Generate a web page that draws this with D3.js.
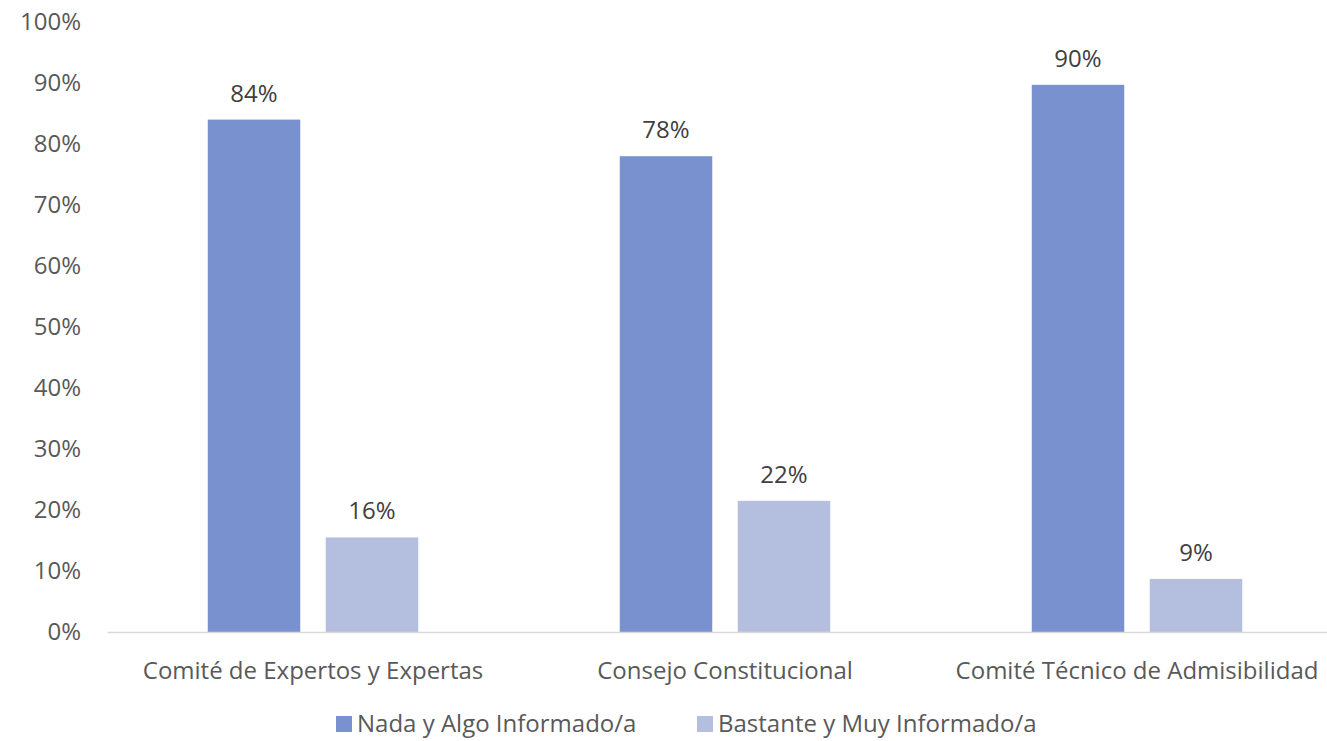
<!DOCTYPE html>
<html><head><meta charset="utf-8">
<script src="https://cdn.jsdelivr.net/npm/d3@7"></script>
<style>body{margin:0;background:#fff;} svg{display:block;font-family:"Open Sans",sans-serif;}</style>
</head><body>
<svg id="c" width="1327" height="741"></svg>
<script>
const categories = ["Comité de Expertos y Expertas", "Consejo Constitucional", "Comité Técnico de Admisibilidad"];
const seriesNames = ["Nada y Algo Informado/a", "Bastante y Muy Informado/a"];
const nadaAlgo = [0.84, 0.78, 0.897];
const bastanteMuy = [0.155, 0.215, 0.087];
const valueLabels = [["84%", "78%", "90%"], ["16%", "22%", "9%"]];
const yTicks = [0, 0.1, 0.2, 0.3, 0.4, 0.5, 0.6, 0.7, 0.8, 0.9, 1.0];
const colors = ["#7992CF", "#B4BFE0"];
const FS = 24;

const svg = d3.select("#c");
const y = d3.scaleLinear().domain([0, 1]).range([632, 22]);
const x0 = d3.scaleBand().domain(categories).range([107, 1343]).paddingInner(0).paddingOuter(0);
const x1 = d3.scaleBand().domain([0, 1]).range([0, 210.5]).paddingInner(0.216).paddingOuter(0);
const groupOffset = (x0.bandwidth() - 210.5) / 2;

// y axis
const yAxis = d3.axisLeft(y).tickValues(yTicks).tickFormat(d3.format(".0%")).tickSize(0).tickPadding(0);
const ya = svg.append("g").attr("transform", "translate(81,0)").call(yAxis);
ya.select(".domain").remove();
ya.selectAll("text").attr("font-size", FS).attr("fill", "#595959").attr("font-family", '"Open Sans",sans-serif');

// bars
const series = [nadaAlgo, bastanteMuy];
series.forEach((vals, si) => {
  const g = svg.append("g");
  g.selectAll("rect").data(vals).join("rect")
    .attr("x", (d, i) => x0(categories[i]) + groupOffset + x1(si))
    .attr("y", d => y(d))
    .attr("width", x1.bandwidth())
    .attr("height", d => y(0) - y(d))
    .attr("fill", colors[si]);
  g.selectAll("text").data(vals).join("text")
    .attr("x", (d, i) => x0(categories[i]) + groupOffset + x1(si) + x1.bandwidth() / 2)
    .attr("y", d => y(d) - 18)
    .attr("text-anchor", "middle")
    .attr("font-size", FS)
    .attr("fill", "#404040")
    .text((d, i) => valueLabels[si][i]);
});

// x axis
const xAxis = d3.axisBottom(x0).tickSize(0).tickPadding(0);
const xa = svg.append("g").attr("transform", "translate(0,632)").call(xAxis);
xa.select(".domain").attr("stroke", "#D9D9D9").attr("stroke-width", 1.5);
xa.selectAll("text").attr("font-size", FS).attr("fill", "#595959").attr("font-family", '"Open Sans",sans-serif')
  .attr("dy", null).attr("y", 47);

// legend
const legendX = [336, 697];
seriesNames.forEach((n, i) => {
  const lg = svg.append("g").attr("transform", `translate(${legendX[i]},0)`);
  lg.append("rect").attr("x", 0).attr("y", 716).attr("width", 16).attr("height", 16).attr("fill", colors[i]);
  lg.append("text").attr("x", 21).attr("y", 732).attr("font-size", FS).attr("fill", "#595959").text(n);
});
</script>
</body></html>
